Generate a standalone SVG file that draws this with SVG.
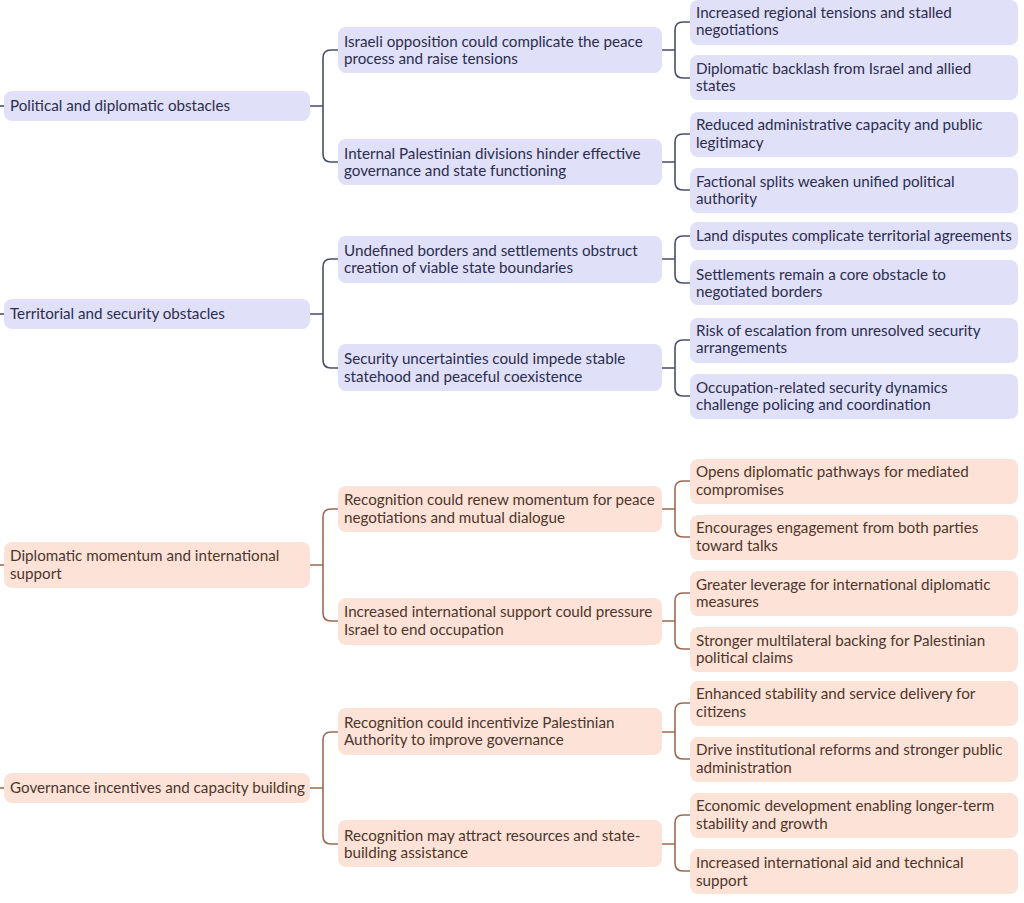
<svg xmlns="http://www.w3.org/2000/svg" width="1024" height="903" viewBox="0 0 1024 903">
<style>
text{font-family:Lato,"Noto Sans",sans-serif;font-size:15.2px}
.b rect{fill:#e0e0f9}
.b text{fill:#2b2d4e}
.o rect{fill:#fde3d7}
.o text{fill:#4d352d}
.cb{fill:none;stroke:#4a4e6e;stroke-width:1.6}
.co{fill:none;stroke:#9b6a55;stroke-width:1.6}
</style>
<rect width="1024" height="903" fill="#fff"/>
<g id="connectors">
<path class="cb" d="M0 106H4"/>
<path class="cb" d="M0 314H4"/>
<path class="co" d="M0 565H4"/>
<path class="co" d="M0 788H4"/>
<!-- level1 to level2 -->
<path class="cb" d="M310 106H323M338 50H331Q323 50 323 58V154Q323 162 331 162H338"/>
<path class="cb" d="M310 314H323M338 259H331Q323 259 323 267V360Q323 368 331 368H338"/>
<path class="co" d="M310 565H323M338 509H331Q323 509 323 517V613Q323 621 331 621H338"/>
<path class="co" d="M310 788H323M338 732H331Q323 732 323 740V836Q323 844 331 844H338"/>
<!-- level2 to level3 -->
<path class="cb" d="M662 50H675M690 22H683Q675 22 675 30V70Q675 78 683 78H690"/>
<path class="cb" d="M662 162H675M690 134H683Q675 134 675 142V182Q675 190 683 190H690"/>
<path class="cb" d="M662 259H675M690 236H683Q675 236 675 244V275Q675 283 683 283H690"/>
<path class="cb" d="M662 368H675M690 340H683Q675 340 675 348V388Q675 396 683 396H690"/>
<path class="co" d="M662 509H675M690 481H683Q675 481 675 489V529Q675 537 683 537H690"/>
<path class="co" d="M662 621H675M690 593H683Q675 593 675 601V641Q675 649 683 649H690"/>
<path class="co" d="M662 732H675M690 703H683Q675 703 675 711V751Q675 759 683 759H690"/>
<path class="co" d="M662 844H675M690 815H683Q675 815 675 823V863Q675 871 683 871H690"/>
</g>
<g id="n-political" class="b"><rect x="4" y="91" width="306" height="30" rx="8"/><text x="10" y="111">Political and diplomatic obstacles</text></g>
<g id="n-territorial" class="b"><rect x="4" y="299" width="306" height="30" rx="8"/><text x="10" y="319">Territorial and security obstacles</text></g>
<g id="n-diplomatic" class="o"><rect x="4" y="542" width="306" height="46" rx="8"/><text x="10" y="561">Diplomatic momentum and international</text><text x="10" y="579">support</text></g>
<g id="n-governance" class="o"><rect x="4" y="773" width="306" height="30" rx="8"/><text x="10" y="793">Governance incentives and capacity building</text></g>

<g id="n-israeli" class="b"><rect x="338" y="27" width="324" height="46" rx="8"/><text x="344" y="47">Israeli opposition could complicate the peace</text><text x="344" y="64">process and raise tensions</text></g>
<g id="n-internal" class="b"><rect x="338" y="139" width="324" height="46" rx="8"/><text x="344" y="159">Internal Palestinian divisions hinder effective</text><text x="344" y="176">governance and state functioning</text></g>
<g id="n-borders" class="b"><rect x="338" y="236" width="324" height="47" rx="8"/><text x="344" y="256">Undefined borders and settlements obstruct</text><text x="344" y="273">creation of viable state boundaries</text></g>
<g id="n-security" class="b"><rect x="338" y="344" width="324" height="47" rx="8"/><text x="344" y="364">Security uncertainties could impede stable</text><text x="344" y="382">statehood and peaceful coexistence</text></g>
<g id="n-renew" class="o"><rect x="338" y="486" width="324" height="46" rx="8"/><text x="344" y="505">Recognition could renew momentum for peace</text><text x="344" y="523">negotiations and mutual dialogue</text></g>
<g id="n-pressure" class="o"><rect x="338" y="598" width="324" height="47" rx="8"/><text x="344" y="617">Increased international support could pressure</text><text x="344" y="635">Israel to end occupation</text></g>
<g id="n-incentivize" class="o"><rect x="338" y="708" width="324" height="47" rx="8"/><text x="344" y="728">Recognition could incentivize Palestinian</text><text x="344" y="745">Authority to improve governance</text></g>
<g id="n-resources" class="o"><rect x="338" y="820" width="324" height="47" rx="8"/><text x="344" y="841">Recognition may attract resources and state-</text><text x="344" y="858">building assistance</text></g>

<g id="n-l3-1" class="b"><rect x="690" y="0" width="328" height="45" rx="8"/><text x="696" y="18">Increased regional tensions and stalled</text><text x="696" y="35">negotiations</text></g>
<g id="n-l3-2" class="b"><rect x="690" y="55" width="328" height="45" rx="8"/><text x="696" y="74">Diplomatic backlash from Israel and allied</text><text x="696" y="91">states</text></g>
<g id="n-l3-3" class="b"><rect x="690" y="112" width="328" height="45" rx="8"/><text x="696" y="130">Reduced administrative capacity and public</text><text x="696" y="148">legitimacy</text></g>
<g id="n-l3-4" class="b"><rect x="690" y="168" width="328" height="45" rx="8"/><text x="696" y="187">Factional splits weaken unified political</text><text x="696" y="204">authority</text></g>
<g id="n-l3-5" class="b"><rect x="690" y="222" width="328" height="28" rx="8"/><text x="696" y="241">Land disputes complicate territorial agreements</text></g>
<g id="n-l3-6" class="b"><rect x="690" y="260" width="328" height="45" rx="8"/><text x="696" y="280">Settlements remain a core obstacle to</text><text x="696" y="297">negotiated borders</text></g>
<g id="n-l3-7" class="b"><rect x="690" y="318" width="328" height="45" rx="8"/><text x="696" y="336">Risk of escalation from unresolved security</text><text x="696" y="353">arrangements</text></g>
<g id="n-l3-8" class="b"><rect x="690" y="374" width="328" height="45" rx="8"/><text x="696" y="393">Occupation-related security dynamics</text><text x="696" y="410">challenge policing and coordination</text></g>
<g id="n-l3-9" class="o"><rect x="690" y="459" width="328" height="45" rx="8"/><text x="696" y="477">Opens diplomatic pathways for mediated</text><text x="696" y="495">compromises</text></g>
<g id="n-l3-10" class="o"><rect x="690" y="515" width="328" height="45" rx="8"/><text x="696" y="533">Encourages engagement from both parties</text><text x="696" y="551">toward talks</text></g>
<g id="n-l3-11" class="o"><rect x="690" y="571" width="328" height="45" rx="8"/><text x="696" y="590">Greater leverage for international diplomatic</text><text x="696" y="607">measures</text></g>
<g id="n-l3-12" class="o"><rect x="690" y="627" width="328" height="45" rx="8"/><text x="696" y="646">Stronger multilateral backing for Palestinian</text><text x="696" y="663">political claims</text></g>
<g id="n-l3-13" class="o"><rect x="690" y="681" width="328" height="45" rx="8"/><text x="696" y="699">Enhanced stability and service delivery for</text><text x="696" y="717">citizens</text></g>
<g id="n-l3-14" class="o"><rect x="690" y="737" width="328" height="45" rx="8"/><text x="696" y="755">Drive institutional reforms and stronger public</text><text x="696" y="773">administration</text></g>
<g id="n-l3-15" class="o"><rect x="690" y="793" width="328" height="45" rx="8"/><text x="696" y="811">Economic development enabling longer-term</text><text x="696" y="829">stability and growth</text></g>
<g id="n-l3-16" class="o"><rect x="690" y="849" width="328" height="45" rx="8"/><text x="696" y="868">Increased international aid and technical</text><text x="696" y="886">support</text></g>
</svg>
